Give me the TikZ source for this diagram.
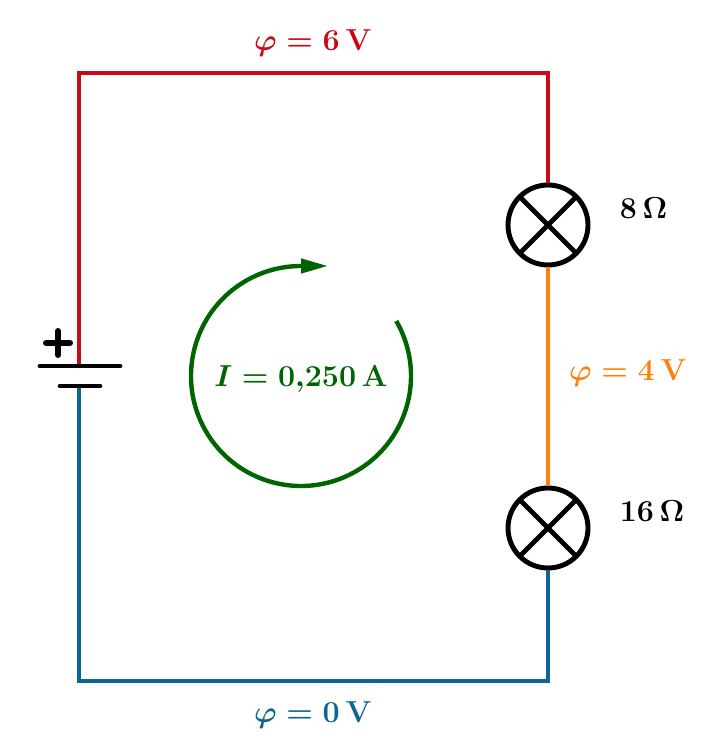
\documentclass[tikz,border=0pt]{standalone}
\usepackage{amsmath}
\usetikzlibrary{positioning,arrows.meta}

\definecolor{wirered}{RGB}{200,10,20}
\definecolor{wireorange}{RGB}{255,128,10}
\definecolor{wireblue}{RGB}{15,100,150}
\definecolor{loopgreen}{RGB}{0,100,0}

\begin{document}
\begin{tikzpicture}[
		wire/.style={line width=2.8pt},
		lamp/.style={circle, draw, line width=2.8pt, minimum size=1.6cm, inner sep=0pt,
			path picture={\draw[line width=2.8pt] (path picture bounding box.north west) -- (path picture bounding box.south east)
				(path picture bounding box.north east) -- (path picture bounding box.south west);}},
		plate/.style={line width=2.8pt, line cap=round},
		lbl/.style={inner sep=0pt, font=\LARGE\bfseries\boldmath}
	]
		\useasboundingbox (0,0) rectangle (14.28,15);
		% corners and battery
		\coordinate (tl) at (1.58,13.54);
		\coordinate (tr) at (10.96,13.54);
		\coordinate (bl) at (1.58,1.38);
		\coordinate (br) at (10.96,1.38);
		\coordinate (batp) at (1.58,7.68);
		\coordinate (batm) at (1.58,7.28);
		% lamps
		\node[lamp] (L1) at (10.96,10.5) {};
		\node[lamp] (L2) at (10.96,4.44) {};
		% wires
		\draw[wire, wirered] (batp) -- (tl) -- (tr) -- (L1.north);
		\draw[wire, wireorange] (L1.south) -- (L2.north);
		\draw[wire, wireblue] (L2.south) -- (br) -- (bl) -- (batm);
		% battery plates and plus sign
		\draw[plate] (0.8,7.68) -- (2.4,7.68);
		\draw[plate] (1.2,7.28) -- (2.0,7.28);
		\draw[line width=3.4pt, line cap=round] (0.92,8.14) -- (1.40,8.14) (1.16,7.90) -- (1.16,8.38);
		% current loop
		\draw[line width=2.5pt, loopgreen, -{Triangle[length=0.54cm,width=0.28cm]}] (6.02,7.48) ++(30:2.2) arc (30:-270:2.2) -- ++(0.54,0);
		\node[lbl, text=loopgreen] (I) at (6.02,7.42) {$I = 0{,}250\,\mathbf{A}$};
		% labels
		\node[lbl, text=wirered] (phitop) at (6.26,14.14) {$\varphi = 6\,\mathbf{V}$};
		\node[lbl, text=wireorange] (phimid) at (12.56,7.54) {$\varphi = 4\,\mathbf{V}$};
		\node[lbl, text=wireblue] (phibot) at (6.26,0.7) {$\varphi = 0\,\mathbf{V}$};
		\node[lbl, right=0.58cm of L1, yshift=0.34cm] (R1) {$8\,\mathbf{\Omega}$};
		\node[lbl, right=0.58cm of L2, yshift=0.34cm] (R2) {$16\,\mathbf{\Omega}$};
	\end{tikzpicture}
\end{document}
